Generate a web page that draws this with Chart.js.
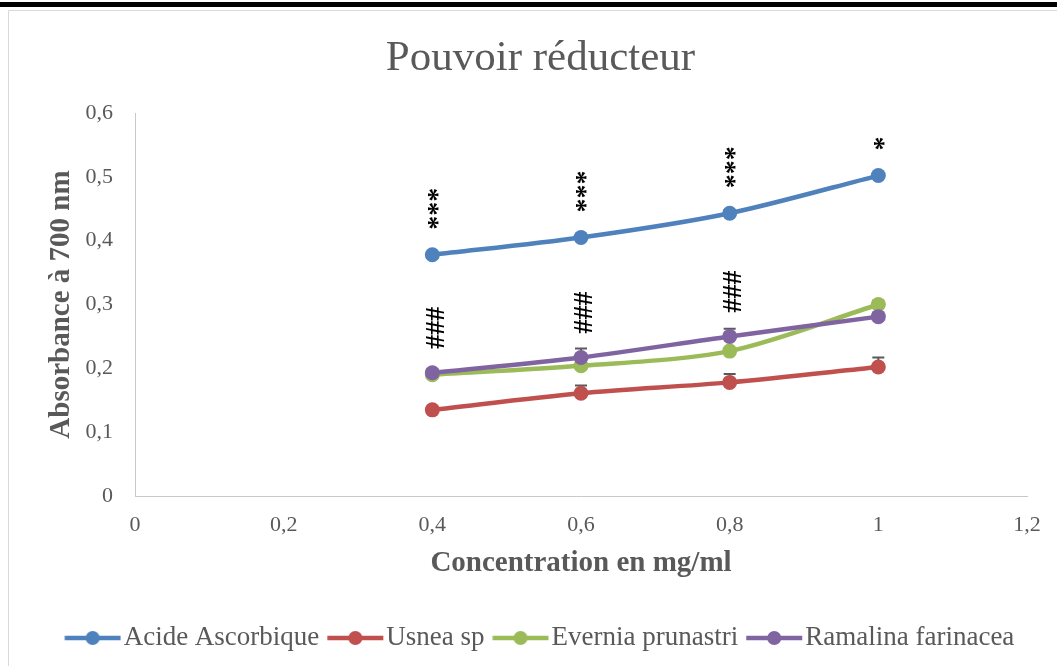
<!DOCTYPE html>
<html>
<head>
<meta charset="utf-8">
<script src="https://cdn.jsdelivr.net/npm/chart.js@4.4.1/dist/chart.umd.min.js"></script>
<style>
  html, body { margin: 0; padding: 0; background: #fff; overflow: hidden; }
  #wrap { width: 1057px; height: 666px; }
</style>
</head>
<body>
<div id="wrap"><canvas id="c" width="1057" height="666"></canvas></div>
<script>
// Concentrations (mg/ml)
const concentrations = [0.4, 0.6, 0.8, 1];

// Absorbance at 700 nm
const acideAscorbique   = [0.378, 0.405, 0.443, 0.502];
const usneaSp           = [0.135, 0.161, 0.178, 0.202];
const everniaPrunastri  = [0.190, 0.204, 0.227, 0.300];
const ramalinaFarinacea = [0.193, 0.217, 0.250, 0.281];

// Standard deviations (drawn above the points)
const acideErr    = [0.004, 0.004, 0.005, 0.004];
const usneaErr    = [0.005, 0.012, 0.013, 0.015];
const everniaErr  = [0.004, 0.005, 0.005, 0.006];
const ramalinaErr = [0.006, 0.014, 0.012, 0.006];

// Significance marks
const starMarks = ['***', '***', '***', '*'];
const hashMarks = ['###', '###', '###', ''];

// Axis tick labels
const xTickLabels = ['0', '0,2', '0,4', '0,6', '0,8', '1', '1,2'];
const yTickLabels = ['0', '0,1', '0,2', '0,3', '0,4', '0,5', '0,6'];

const seriesNames  = ['Acide Ascorbique', 'Usnea sp', 'Evernia prunastri', 'Ramalina farinacea'];
const seriesColors = ['#4F81BD', '#C0504D', '#9BBB59', '#8064A2'];
const seriesValues = [acideAscorbique, usneaSp, everniaPrunastri, ramalinaFarinacea];
const seriesErrors = [acideErr, usneaErr, everniaErr, ramalinaErr];

const FONT = "'Liberation Serif', 'Times New Roman', serif";
const GREY = '#595959';

Chart.defaults.font.family = FONT;
Chart.defaults.color = GREY;

// Line-with-marker swatch for the legend
function legendSwatch(color) {
  const c = document.createElement('canvas');
  c.width = 66; c.height = 18;
  const g = c.getContext('2d');
  g.strokeStyle = color; g.lineWidth = 4.5;
  g.beginPath(); g.moveTo(9.25, 9); g.lineTo(65.25, 9); g.stroke();
  g.fillStyle = color;
  g.beginPath(); g.arc(37.25, 9, 7, 0, Math.PI * 2); g.fill();
  return c;
}
const swatches = seriesColors.map(legendSwatch);

const datasets = seriesNames.map((name, k) => ({
  label: name,
  data: concentrations.map((c, i) => ({ x: c, y: seriesValues[k][i] })),
  errorBars: seriesErrors[k],
  borderColor: seriesColors[k],
  backgroundColor: seriesColors[k],
  pointBackgroundColor: seriesColors[k],
  pointBorderColor: seriesColors[k],
  pointBorderWidth: 0,
  pointRadius: 7.5,
  pointHoverRadius: 7.5,
  borderWidth: 4.5,
  tension: 0.3,
  order: seriesNames.length - k
}));

// Outer frame of the chart
const framePlugin = {
  id: 'frame',
  beforeDraw(chart) {
    const ctx = chart.ctx;
    ctx.save();
    ctx.fillStyle = '#fff';
    ctx.fillRect(0, 0, chart.width, chart.height);
    ctx.fillStyle = '#000';
    ctx.fillRect(0, 2, chart.width, 5);
    ctx.strokeStyle = '#d9d9d9';
    ctx.lineWidth = 1;
    ctx.beginPath();
    ctx.moveTo(8.5, chart.height);
    ctx.lineTo(8.5, 10.5);
    ctx.lineTo(chart.width, 10.5);
    ctx.stroke();
    ctx.restore();
  }
};

// Plus-direction error bars with a cap
const errorBarPlugin = {
  id: 'errorBars',
  beforeDatasetsDraw(chart) {
    const { ctx, scales: { x, y } } = chart;
    ctx.save();
    ctx.strokeStyle = '#5a5a5a';
    ctx.lineWidth = 2;
    chart.data.datasets.forEach(ds => {
      ds.data.forEach((p, i) => {
        const e = ds.errorBars[i];
        const px = x.getPixelForValue(p.x);
        const top = y.getPixelForValue(p.y + e);
        const mid = y.getPixelForValue(p.y);
        ctx.beginPath();
        ctx.moveTo(px, top); ctx.lineTo(px, mid);
        ctx.moveTo(px - 6, top); ctx.lineTo(px + 6, top);
        ctx.stroke();
      });
    });
    ctx.restore();
  }
};

// Significance marks written vertically above the points
const marksPlugin = {
  id: 'marks',
  afterDatasetsDraw(chart) {
    const { ctx, scales: { x, y } } = chart;
    const put = (text, px, py) => {
      if (!text) return;
      ctx.save();
      ctx.translate(px, py);
      ctx.rotate(-Math.PI / 2);
      ctx.fillText(text, 0, 0);
      ctx.restore();
    };
    ctx.save();
    ctx.fillStyle = '#000';
    ctx.font = 'bold 28px ' + FONT;
    ctx.textAlign = 'left';
    ctx.textBaseline = 'middle';
    concentrations.forEach((c, i) => {
      const px = x.getPixelForValue(c);
      put(starMarks[i], px + 6, y.getPixelForValue(acideAscorbique[i]) - 25);
      put(hashMarks[i], px + 4, y.getPixelForValue(ramalinaFarinacea[i]) - 24);
    });
    ctx.restore();
  }
};

new Chart(document.getElementById('c'), {
  type: 'line',
  data: { datasets },
  plugins: [framePlugin, errorBarPlugin, marksPlugin],
  options: {
    responsive: false,
    animation: false,
    devicePixelRatio: 1,
    layout: { padding: { top: 10, left: 24, right: 0, bottom: 4.5 } },
    plugins: {
      tooltip: { enabled: false },
      title: {
        display: true,
        text: 'Pouvoir réducteur',
        color: GREY,
        font: { size: 43, weight: 'normal' },
        padding: { top: 23, bottom: 28.4 }
      },
      legend: {
        position: 'bottom',
        labels: {
          color: GREY,
          font: { size: 27 },
          usePointStyle: true,
          pointStyleWidth: 43.5,
          padding: 10,
          sort: (a, b) => a.datasetIndex - b.datasetIndex,
          generateLabels(chart) {
            const items = Chart.defaults.plugins.legend.labels.generateLabels(chart);
            items.forEach(it => { it.pointStyle = swatches[it.datasetIndex]; });
            return items;
          }
        }
      }
    },
    scales: {
      x: {
        type: 'linear',
        min: 0, max: 1.2,
        grid: { display: false, drawTicks: false },
        border: { display: true, color: '#c8c8c8', width: 1 },
        ticks: {
          stepSize: 0.2,
          padding: 16,
          color: GREY,
          font: { size: 22 },
          maxRotation: 0,
          autoSkip: false,
          callback: v => xTickLabels[Math.round(v * 5)]
        },
        title: {
          display: true,
          text: 'Concentration en mg/ml',
          color: GREY,
          font: { size: 29, weight: 'bold' },
          padding: { top: 0, bottom: 34 }
        },
        afterFit(s) { s.height = 118.5; }
      },
      y: {
        min: 0, max: 0.6,
        grid: { display: false, drawTicks: false },
        border: { display: true, color: '#c8c8c8', width: 1 },
        ticks: {
          stepSize: 0.1,
          padding: 22,
          color: GREY,
          font: { size: 22 },
          autoSkip: false,
          callback: v => yTickLabels[Math.round(v * 10)]
        },
        title: {
          display: true,
          text: 'Absorbance à 700 nm',
          color: GREY,
          font: { size: 29, weight: 'bold' },
          padding: { top: 20.6, bottom: 0 }
        },
        afterFit(s) { s.width = 111; }
      },
      yRight: {
        type: 'linear',
        position: 'right',
        display: true,
        grid: { display: false, drawTicks: false },
        border: { display: false },
        ticks: { display: false },
        afterFit(s) { s.width = 30; }
      }
    }
  }
});
</script>
</body>
</html>
